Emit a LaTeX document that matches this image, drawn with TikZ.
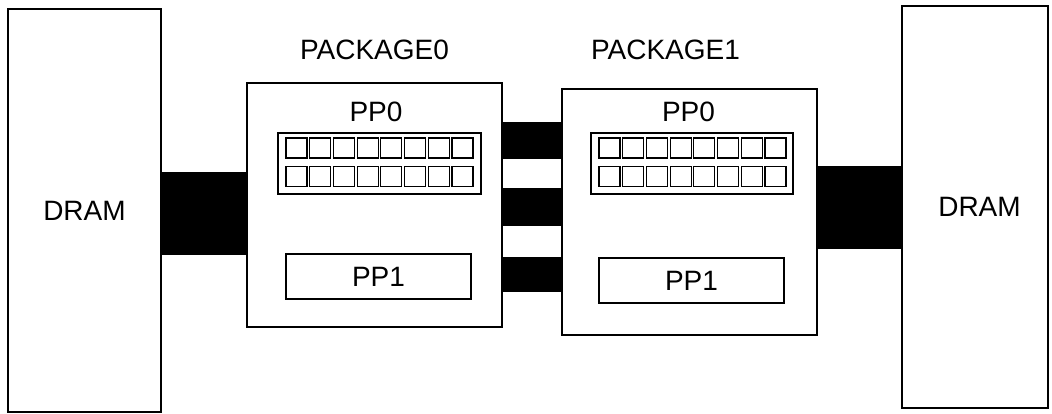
\documentclass[tikz,border=0pt]{standalone}
\usepackage{fontspec}
\setmainfont{Liberation Sans}
\begin{document}
\begin{tikzpicture}[x=1pt,y=-1pt,
  box/.style={draw=black,line width=1.8pt,fill=white,inner sep=0pt,minimum width=#1},
  lbl/.style={inner sep=0pt,font=\fontsize{28}{33}\selectfont},
  cell/.style={draw=black,line width=1.2pt},
  bus/.style={fill=black}]
\useasboundingbox (0,0) rectangle (1052,414);
\fill[white] (0,0) rectangle (1052,414);
% DRAMs
\node[box=153, minimum height=403, font=\fontsize{28}{33}\selectfont] (dramL) at (84.5,210.5) {DRAM};
\node[box=146, minimum height=402, font=\fontsize{28}{33}\selectfont] (dramR) at (975,207) {\hspace*{9pt}DRAM};
% packages
\node[box=255, minimum height=244] (pkg0) at (374.5,205) {};
\node[box=255, minimum height=246] (pkg1) at (689.5,212) {};
\node[lbl] (pkg0lbl) at (374.5,50) {PACKAGE0};
\node[lbl] (pkg1lbl) at (665.5,50) {PACKAGE1};
% PP0 labels
\node[lbl] (pp0a) at (376,112) {PP0};
\node[lbl] (pp0b) at (688.5,112) {PP0};
% PP0 grids
\node[box=203, minimum height=61] (grid0) at (379.5,163.5) {};
\node[box=202, minimum height=61] (grid1) at (692,163.5) {};
\foreach \i in {0,...,7}{
  \draw[cell] ({286+23.7*\i},138) rectangle ++(21,20);
  \draw[cell] ({286+23.7*\i},166.5) rectangle ++(21,20);
  \draw[cell] ({599+23.7*\i},138) rectangle ++(21,20);
  \draw[cell] ({599+23.7*\i},166.5) rectangle ++(21,20);
}
% PP1 boxes
\node[box=185, minimum height=45, font=\fontsize{28}{33}\selectfont] (pp1a) at (378.5,276.5) {PP1};
\node[box=185, minimum height=45, font=\fontsize{28}{33}\selectfont] (pp1b) at (691.5,280.5) {PP1};
% buses
\fill[bus] (dramL.east |- 0,172) rectangle (pkg0.west |- 0,255);
\fill[bus] (pkg0.east |- 0,122) rectangle (pkg1.west |- 0,159);
\fill[bus] (pkg0.east |- 0,188) rectangle (pkg1.west |- 0,226);
\fill[bus] (pkg0.east |- 0,257) rectangle (pkg1.west |- 0,292);
\fill[bus] (pkg1.east |- 0,166) rectangle (dramR.west |- 0,249);
\end{tikzpicture}
\end{document}
